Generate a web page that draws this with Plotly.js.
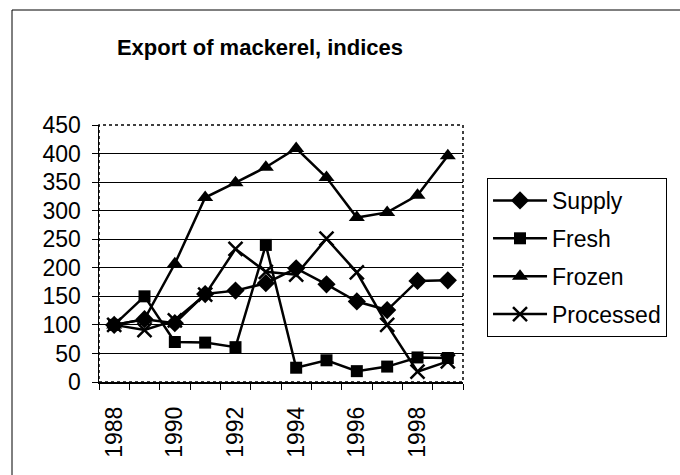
<!DOCTYPE html>
<html>
<head>
<meta charset="utf-8">
<script src="https://cdn.plot.ly/plotly-3.0.1.min.js"></script>
<style>html,body{margin:0;padding:0;background:#fff;}#chart{width:680px;height:475px;}</style>
</head>
<body>
<div id="chart"></div>
<script>
const years = [1988,1989,1990,1991,1992,1993,1994,1995,1996,1997,1998,1999];
const yearTicks = [1988,1990,1992,1994,1996,1998];
const supply = [100,110,103,154,160,173,199,171,141,126,177,178];
const fresh = [100,150,70,69,61,240,25,38,19,27,43,42];
const frozen = [100,110,207,323,349,376,409,358,288,297,327,396];
const processed = [100,91,108,153,233,193,188,251,192,100,18,36];

const font = "Liberation Sans, Arial, sans-serif";
function tr(name, y, symbol, size, grp) {
  const open = symbol.indexOf('open') >= 0;
  return {
    x: years, y: y, name: name, type: 'scatter', mode: 'lines+markers',
    legendgroup: grp,
    line: {color: '#000', width: 2.5},
    marker: {symbol: symbol, size: size, color: '#000', line: {color: '#000', width: open ? 2.5 : 0}}
  };
}
const data = [
  tr('Supply', supply, 'diamond', 14, 'a'),
  tr('Fresh', fresh, 'square', 12, 'b'),
  tr('Frozen', frozen, 'triangle-up', 14, 'c'),
  tr('Processed', processed, 'x-thin-open', 14, 'd')
];
const layout = {
  width: 680, height: 475,
  margin: {l: 99, r: 217, t: 125, b: 93},
  paper_bgcolor: '#fff', plot_bgcolor: '#fff',
  font: {family: font, color: '#000', size: 23},
  title: {text: 'Export of mackerel, indices', font: {family: font, size: 22, weight: 'bold', color: '#000'},
          x: 260/680, xref: 'container', xanchor: 'center', y: 1 - 47/475, yref: 'container', yanchor: 'middle'},
  xaxis: {
    type: 'linear', range: [1987.5, 1999.5], tickvals: yearTicks, ticktext: yearTicks.map(String),
    tickangle: -90, ticks: '', showgrid: false, zeroline: false,
    showline: true, linecolor: '#000', linewidth: 1.5,
    tickfont: {size: 23, family: font}, ticklabelstandoff: 14,
    minor: {tick0: 1987.5, dtick: 1, ticks: 'outside', ticklen: 6, tickcolor: '#000', tickwidth: 1, showgrid: false}
  },
  yaxis: {
    range: [0, 450], dtick: 50, tick0: 0, ticks: 'outside', ticklen: 6, tickcolor: '#000',
    showgrid: true, gridcolor: '#000', gridwidth: 1, zeroline: false,
    showline: true, linecolor: '#000', linewidth: 1.5,
    tickfont: {size: 23, family: font}, ticklabelstandoff: 6
  },
  legend: {
    x: 1.066, y: 0.794, xanchor: 'left', yanchor: 'top', xref: 'paper', yref: 'paper',
    bordercolor: '#000', borderwidth: 1, bgcolor: '#fff',
    font: {size: 23, family: font, color: '#000'},
    itemwidth: 54, traceorder: 'grouped', tracegroupgap: 5
  },
  showlegend: true,
  shapes: [
    {type: 'rect', xref: 'paper', yref: 'paper', x0: 0, x1: 1, y0: 0, y1: 1,
     line: {color: '#000', width: 1.5, dash: 'dot'}},
    {type: 'line', xref: 'paper', yref: 'paper', x0: (12-99)/364, x1: (12-99)/364, y0: (382-10)/257, y1: (382-480)/257,
     line: {color: '#000', width: 1}},
    {type: 'line', xref: 'paper', yref: 'paper', x0: (12-99)/364, x1: (685-99)/364, y0: (382-10)/257, y1: (382-10)/257,
     line: {color: '#000', width: 1}}
  ]
};
Plotly.newPlot('chart', data, layout, {displayModeBar: false, staticPlot: true});
</script>
</body>
</html>
